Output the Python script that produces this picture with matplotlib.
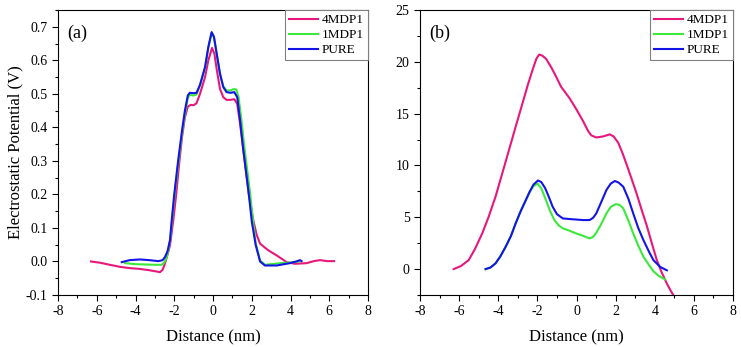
import matplotlib
matplotlib.use("Agg")
import matplotlib.pyplot as plt
from matplotlib.ticker import MultipleLocator, FormatStrFormatter

plt.rcParams['font.family'] = ['Liberation Serif', 'DejaVu Serif']
plt.rcParams['axes.unicode_minus'] = False

PINK = '#E8177C'
GREEN = '#3CE83C'
BLUE = '#1414E6'

# ---- Panel (a): electrostatic potential (V) ----
a_pink_x = [-6.3, -5.8, -5.32, -4.8, -4.28, -3.8, -3.3, -2.9, -2.74, -2.6, -2.48, -2.35, -2.22, -2.05,
            -1.9, -1.75, -1.6, -1.45, -1.3, -1.15, -1.0, -0.85, -0.67, -0.41, -0.24, -0.05, 0.07,
            0.2, 0.36, 0.53, 0.7, 0.9, 1.1, 1.25, 1.4, 1.55, 1.7, 1.85, 2.08, 2.25, 2.43, 2.86, 3.29,
            3.8, 4.23, 4.84, 5.2, 5.52, 5.9, 6.25]
a_pink_y = [0.0, -0.004, -0.01, -0.016, -0.02, -0.022, -0.026, -0.03, -0.032, -0.025, -0.006, 0.02,
            0.048, 0.123, 0.2, 0.29, 0.37, 0.43, 0.462, 0.467, 0.466, 0.472, 0.5, 0.55, 0.6, 0.637,
            0.62, 0.57, 0.515, 0.49, 0.482, 0.482, 0.484, 0.47, 0.41, 0.34, 0.27, 0.2, 0.123, 0.08,
            0.053, 0.033, 0.018, -0.002, -0.007, -0.005, 0.001, 0.004, 0.001, 0.001]

a_green_x = [-4.54, -4.0, -3.5, -2.91, -2.65, -2.5, -2.39, -2.3, -2.2, -2.0, -1.8, -1.6, -1.45, -1.3,
             -1.2, -1.0, -0.85, -0.67, -0.41, -0.24, -0.07, 0.05, 0.19, 0.36, 0.53, 0.7, 0.9, 1.05,
             1.2, 1.32, 1.45, 1.6, 1.75, 1.9, 2.05, 2.2, 2.43, 2.68, 3.29, 3.97, 4.45]
a_green_y = [-0.005, -0.008, -0.009, -0.01, -0.01, -0.002, 0.013, 0.035, 0.07, 0.19, 0.29, 0.38,
             0.44, 0.488, 0.497, 0.495, 0.498, 0.525, 0.578, 0.638, 0.682, 0.668, 0.62, 0.56, 0.523,
             0.51, 0.51, 0.514, 0.513, 0.49, 0.43, 0.35, 0.28, 0.21, 0.13, 0.055, 0.003, -0.01, -0.006,
             -0.003, 0.0]

a_blue_x = [-4.71, -4.3, -3.77, -3.3, -2.82, -2.6, -2.48, -2.35, -2.22, -2.13, -2.0, -1.8, -1.6, -1.45,
            -1.3, -1.2, -1.0, -0.85, -0.67, -0.41, -0.24, -0.07, 0.05, 0.19, 0.36, 0.53, 0.7, 0.9,
            1.1, 1.25, 1.4, 1.55, 1.7, 1.85, 2.0, 2.2, 2.43, 2.68, 3.29, 3.97, 4.3, 4.49, 4.57]
a_blue_y = [-0.002, 0.004, 0.006, 0.004, 0.001, 0.004, 0.013, 0.03, 0.063, 0.123, 0.2, 0.3, 0.39,
            0.45, 0.495, 0.503, 0.502, 0.503, 0.527, 0.58, 0.64, 0.684, 0.67, 0.62, 0.56, 0.52, 0.505,
            0.503, 0.505, 0.49, 0.42, 0.34, 0.27, 0.2, 0.12, 0.05, 0.0, -0.012, -0.012, -0.005, 0.0,
            0.004, 0.001]

# ---- Panel (b) ----
b_pink_x = [-6.28, -5.9, -5.51, -5.2, -4.82, -4.5, -4.14, -3.8, -3.45, -3.1, -2.76, -2.5, -2.25, -2.05,
            -1.91, -1.75, -1.56, -1.3, -1.05, -0.79, -0.36, 0.0, 0.33, 0.6, 0.76, 1.01, 1.36, 1.70,
            1.9, 2.13, 2.35, 2.56, 2.8, 3.07, 3.3, 3.59, 3.85, 4.10, 4.35, 4.62, 4.85, 5.2]
b_pink_y = [0.0, 0.3, 0.87, 1.9, 3.44, 5.0, 6.98, 9.2, 11.5, 13.8, 16.0, 17.7, 19.2, 20.3, 20.7, 20.6,
            20.3, 19.5, 18.6, 17.6, 16.5, 15.4, 14.3, 13.3, 12.9, 12.7, 12.8, 13.0, 12.8, 12.2, 11.2,
            10.1, 8.8, 7.3, 5.9, 4.2, 2.5, 0.9, -0.3, -1.4, -2.2, -3.3]

b_green_x = [-4.65, -4.4, -4.14, -3.9, -3.62, -3.35, -3.11, -2.85, -2.59, -2.4, -2.2, -1.99, -1.8,
             -1.56, -1.35, -1.13, -0.9, -0.70, -0.35, -0.02, 0.35, 0.67, 0.85, 1.01, 1.25, 1.53, 1.75,
             2.01, 2.2, 2.39, 2.65, 2.90, 3.15, 3.42, 3.7, 3.93, 4.2, 4.53]
b_green_y = [0.0, 0.15, 0.55, 1.2, 2.16, 3.2, 4.41, 5.6, 6.66, 7.4, 8.0, 8.25, 7.8, 6.66, 5.6, 4.73,
             4.2, 3.93, 3.7, 3.44, 3.2, 2.96, 3.1, 3.5, 4.3, 5.37, 6.0, 6.27, 6.2, 5.86, 4.7, 3.44, 2.3,
             1.19, 0.4, -0.2, -0.65, -1.0]

b_blue_x = [-4.65, -4.4, -4.14, -3.9, -3.62, -3.35, -3.11, -2.85, -2.59, -2.4, -2.2, -1.97, -1.8,
            -1.6, -1.4, -1.22, -1.0, -0.70, -0.36, 0.0, 0.33, 0.67, 0.85, 1.01, 1.25, 1.53, 1.75, 1.96,
            2.15, 2.39, 2.65, 2.90, 3.15, 3.42, 3.7, 3.93, 4.27, 4.62]
b_blue_y = [0.0, 0.15, 0.55, 1.2, 2.16, 3.2, 4.41, 5.6, 6.66, 7.45, 8.15, 8.55, 8.4, 7.8, 6.9, 6.02,
            5.3, 4.89, 4.83, 4.78, 4.73, 4.73, 4.95, 5.37, 6.4, 7.63, 8.25, 8.5, 8.35, 7.95, 6.8, 5.37,
            4.0, 2.8, 1.7, 0.87, 0.22, -0.12]

labels = ['4MDP1', '1MDP1', 'PURE']
colors = [PINK, GREEN, BLUE]

fig = plt.figure(figsize=(7.41, 3.47), dpi=100)
axa = fig.add_axes([58/741, 1-295/347, 310/741, 285/347])
axb = fig.add_axes([420/741, 1-295/347, 313/741, 285/347])

lw = 1.5
for ax, xs, ys in [(axa, [a_pink_x, a_green_x, a_blue_x], [a_pink_y, a_green_y, a_blue_y]),
                   (axb, [b_pink_x, b_green_x, b_blue_x], [b_pink_y, b_green_y, b_blue_y])]:
    for x, y, c, l in zip(xs, ys, colors, labels):
        ax.plot(x, y, color=c, lw=lw, label=l, solid_joinstyle='round')
    ax.set_xlim(-8, 8)
    ax.xaxis.set_major_locator(MultipleLocator(2))
    ax.xaxis.set_minor_locator(MultipleLocator(1))
    ax.tick_params(which='major', direction='out', length=4, width=0.8, labelsize=10,
                   top=False, right=False)
    ax.tick_params(which='minor', direction='out', length=2.5, width=0.8, top=False, right=False)
    ax.set_xlabel('Distance (nm)', fontsize=12, labelpad=8)
    for s in ax.spines.values():
        s.set_linewidth(0.8)
    leg = ax.legend(loc='upper right', fontsize=9.5, frameon=True, fancybox=False,
                    borderaxespad=0, handlelength=2.2, handletextpad=0.3,
                    labelspacing=0.22, borderpad=0.3, framealpha=1)
    leg.get_frame().set_edgecolor('#808080')
    leg.get_frame().set_linewidth(0.8)

axa.set_ylim(-0.1, 0.75)
axa.yaxis.set_major_locator(MultipleLocator(0.1))
axa.yaxis.set_minor_locator(MultipleLocator(0.05))
axa.yaxis.set_major_formatter(FormatStrFormatter('%.1f'))
axa.set_ylabel('Electrostatic Potential (V)', fontsize=12, labelpad=2)
axa.text(0.03, 0.95, '(a)', transform=axa.transAxes, fontsize=13, va='top', ha='left')

axb.set_ylim(-2.5, 25)
axb.yaxis.set_major_locator(MultipleLocator(5))
axb.yaxis.set_minor_locator(MultipleLocator(2.5))
axb.text(0.03, 0.95, '(b)', transform=axb.transAxes, fontsize=13, va='top', ha='left')

fig.savefig('out.png', dpi=100)
